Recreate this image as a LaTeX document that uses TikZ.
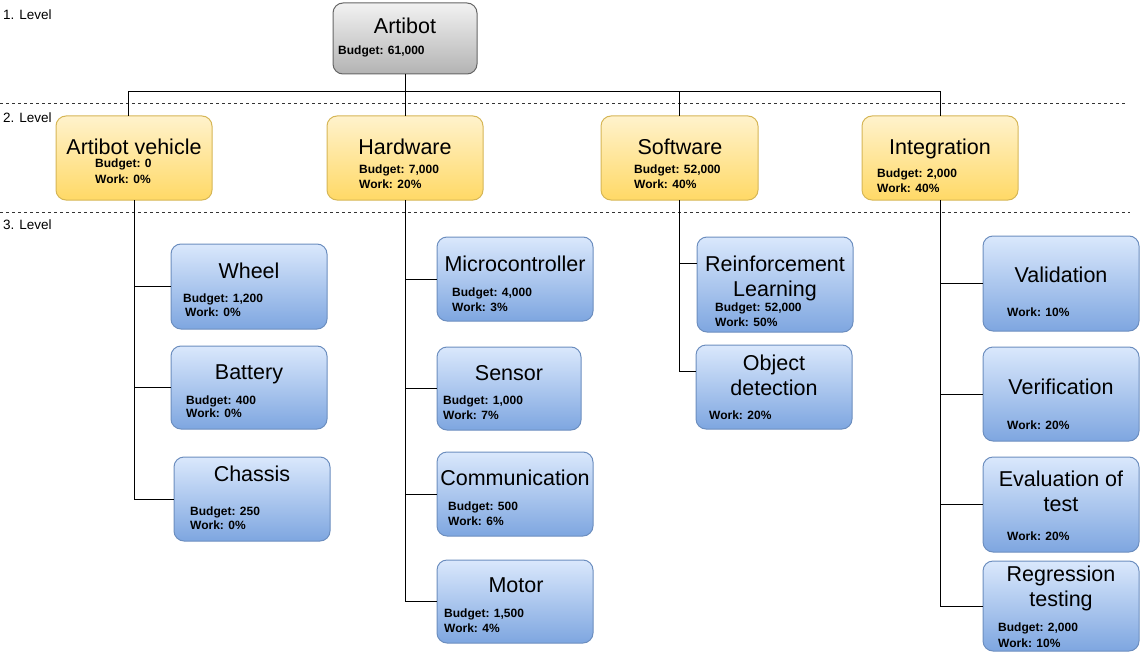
\documentclass[tikz,border=0pt]{standalone}
\usepackage{fontspec}
\setmainfont{Liberation Sans}
\definecolor{gTop}{HTML}{F2F2F2}
\definecolor{gBot}{HTML}{B3B3B3}
\definecolor{gDr}{HTML}{666666}
\definecolor{yTop}{HTML}{FFF2CC}
\definecolor{yBot}{HTML}{FFD966}
\definecolor{yDr}{HTML}{D6B656}
\definecolor{bTop}{HTML}{DAE8FC}
\definecolor{bBot}{HTML}{7EA6E0}
\definecolor{bDr}{HTML}{6C8EBF}
\tikzset{
  box/.style={rounded corners=10pt, line width=1pt, inner sep=0pt, outer sep=0pt},
  lone/.style={box, draw=gDr, top color=gTop, bottom color=gBot},
  ltwo/.style={box, draw=yDr, top color=yTop, bottom color=yBot, minimum width=156pt, minimum height=84pt},
  lthree/.style={box, draw=bDr, top color=bTop, bottom color=bBot, minimum width=156pt, minimum height=84pt},
  ttl/.style={font=\fontsize{21.5}{25}\selectfont, align=center, inner sep=0pt, anchor=base},
  det/.style={font=\fontsize{12}{14.5}\selectfont\bfseries, align=left, inner sep=0pt, anchor=base west},
  lvl/.style={font=\fontsize{13.5}{16}\selectfont, inner sep=0pt, anchor=base west},
  conn/.style={line width=1pt, black},
  sep/.style={line width=1pt, black!80, dash pattern=on 3pt off 3pt}
}
\begin{document}
\begin{tikzpicture}[x=1pt,y=-1pt]
\useasboundingbox (0,0) rectangle (1142,658);
% level separators
\coordinate (s1a) at (0,104); \coordinate (s1b) at (1127,104);
\coordinate (s2a) at (0,212); \coordinate (s2b) at (1130,212);
\draw[sep] (s1a) -- (s1b);
\draw[sep] (s2a) -- (s2b);
\node[lvl] (lv1) at (3,20) {1. Level};
\node[lvl] (lv2) at (3,122) {2. Level};
\node[lvl] (lv3) at (3,229) {3. Level};

% level 1
\node[lone, minimum width=144pt, minimum height=71pt] (art) at (405,38.5) {};
\node[ttl] (artT) at (405,34) {Artibot};
\node[det] (artD) at (338,55) {Budget: 61,000};

% level 2 (detail nodes placed at the baseline of their last line)
\node[ltwo] (veh) at (134,158) {};
\node[ttl] (vehT) at (134,154) {Artibot vehicle};
\node[det] (vehD) at (95,183.3) {Budget: 0\\[1.5pt]Work: 0\%};

\node[ltwo] (hw) at (405,158) {};
\node[ttl] (hwT) at (405,154) {Hardware};
\node[det] (hwD) at (359,188.3) {Budget: 7,000\\Work: 20\%};

\node[ltwo, minimum width=157pt] (sw) at (679.5,158) {};
\node[ttl] (swT) at (680,154) {Software};
\node[det] (swD) at (634,188.3) {Budget: 52,000\\Work: 40\%};

\node[ltwo] (integ) at (940,158) {};
\node[ttl] (integT) at (940,154) {Integration};
\node[det] (integD) at (877,192.3) {Budget: 2,000\\[0.5pt]Work: 40\%};

% level 3 - vehicle
\node[lthree, minimum height=85pt] (wheel) at (249,286.5) {};
\node[ttl] (wheelT) at (249,278) {Wheel};
\node[det] (wheelD) at (183,316.3) {Budget: 1,200\\[-0.5pt]\hspace*{2pt}Work: 0\%};

\node[lthree, minimum height=83pt] (bat) at (249,387.5) {};
\node[ttl] (batT) at (249,379) {Battery};
\node[det] (batD) at (186,417.3) {Budget: 400\\[-2pt]Work: 0\%};

\node[lthree] (chas) at (252,499) {};
\node[ttl] (chasT) at (252,481) {Chassis};
\node[det] (chasD) at (190,529.3) {Budget: 250\\[-1pt]Work: 0\%};

% level 3 - hardware
\node[lthree] (micro) at (515,279) {};
\node[ttl] (microT) at (515,271) {Microcontroller};
\node[det] (microD) at (452,311.3) {Budget: 4,000\\Work: 3\%};

\node[lthree, minimum width=144pt, minimum height=83pt] (sens) at (509,388.5) {};
\node[ttl] (sensT) at (509,380) {Sensor};
\node[det] (sensD) at (443,419.3) {Budget: 1,000\\Work: 7\%};

\node[lthree] (comm) at (515,494) {};
\node[ttl] (commT) at (515,485) {Communication};
\node[det] (commD) at (448,525.3) {Budget: 500\\Work: 6\%};

\node[lthree, minimum height=83pt] (motor) at (515,601.5) {};
\node[ttl] (motorT) at (516,592) {Motor};
\node[det] (motorD) at (444,632.3) {Budget: 1,500\\[0.5pt]Work: 4\%};

% level 3 - software (two-line titles placed at the baseline of their second line)
\node[lthree, minimum height=95pt] (rl) at (775,284.5) {};
\node[ttl] (rlT) at (775,296) {Reinforcement\\Learning};
\node[det] (rlD) at (715,326.3) {Budget: 52,000\\Work: 50\%};

\node[lthree] (od) at (774,387) {};
\node[ttl] (odT) at (774,395) {Object\\detection};
\node[det] (odD) at (709,419.3) {Work: 20\%};

% level 3 - integration
\node[lthree, minimum height=95pt] (val) at (1061,283.5) {};
\node[ttl] (valT) at (1061,282) {Validation};
\node[det] (valD) at (1007,316.3) {Work: 10\%};

\node[lthree, minimum height=94pt] (ver) at (1061,394) {};
\node[ttl] (verT) at (1061,394) {Verification};
\node[det] (verD) at (1007,429.3) {Work: 20\%};

\node[lthree, minimum height=95pt] (eval) at (1061,504.5) {};
\node[ttl] (evalT) at (1061,511) {Evaluation of\\test};
\node[det] (evalD) at (1007,540.3) {Work: 20\%};

\node[lthree, minimum height=90pt] (reg) at (1061,606) {};
\node[ttl] (regT) at (1061,606) {Regression\\testing};
\node[det] (regD) at (998,647.3) {Budget: 2,000\\[1.5pt]Work: 10\%};

% connectors level 1 -> 2
\coordinate (bus) at (0,92);
\draw[conn] (art.south) -- (hw.north);
\draw[conn] ([xshift=-6pt]veh.north) |- (integ.north |- bus) -- (integ.north);
\draw[conn] (sw.north) -- (sw.north |- bus);

% connectors level 2 -> 3
\draw[conn] (veh.south) |- (wheel.west);
\draw[conn] (veh.south) |- (bat.west);
\draw[conn] (veh.south) |- (chas.west);
\draw[conn] (hw.south) |- (micro.west);
\draw[conn] (hw.south) |- (sens.west);
\draw[conn] (hw.south) |- (comm.west);
\draw[conn] (hw.south) |- (motor.west);
\draw[conn] (sw.south) |- ([yshift=21.5pt]rl.west);
\draw[conn] (sw.south) |- ([yshift=16pt]od.west);
\draw[conn] (integ.south) |- (val.west);
\draw[conn] (integ.south) |- (ver.west);
\draw[conn] (integ.south) |- (eval.west);
\draw[conn] (integ.south) |- (reg.west);
\end{tikzpicture}
\end{document}
